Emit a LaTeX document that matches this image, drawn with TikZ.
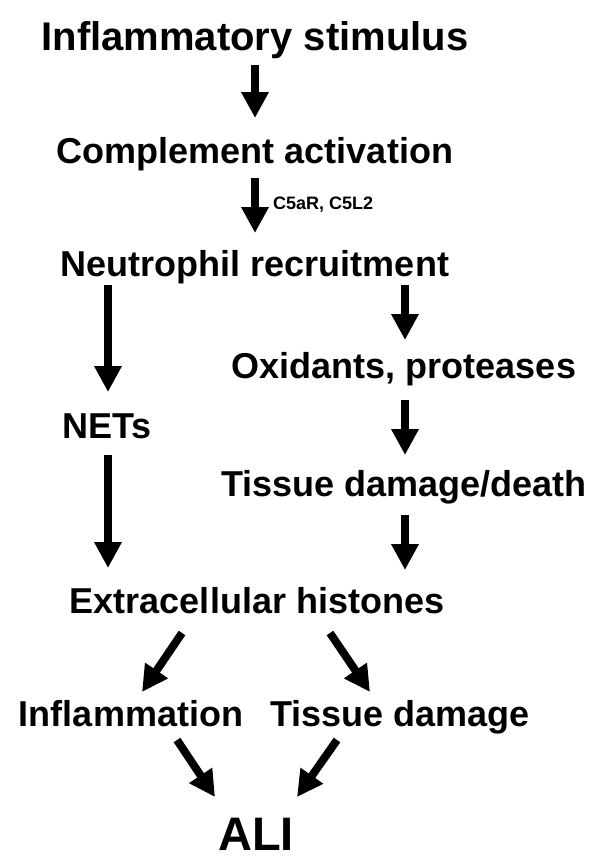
\documentclass[tikz,border=0pt]{standalone}
\usepackage{fontspec}
\setmainfont{Liberation Sans}
\usetikzlibrary{arrows.meta}
\begin{document}
\begin{tikzpicture}[x=1pt,y=-1pt,
  lbl/.style={anchor=base,inner sep=0pt,font=\bfseries\fontsize{36}{40}\selectfont},
  arr/.style={line width=8pt,-{Triangle[width=26pt,length=26pt]}},
  small/.style={anchor=west,inner sep=0pt,font=\bfseries\fontsize{18}{20}\selectfont}]
\useasboundingbox (0,0) rectangle (601,865);
\node[lbl,font=\bfseries\fontsize{40}{44}\selectfont] (stim) at (255,50) {Inflammatory stimulus};
\node[lbl] (comp) at (255,163) {Complement activation};
\node[lbl] (neut) at (255,276) {Neutrophil recruitment};
\node[lbl] (ox) at (404,378) {Oxidants, proteases};
\node[lbl] (nets) at (107,438) {NETs};
\node[lbl] (tiss) at (404,496) {Tissue damage/death};
\node[lbl] (hist) at (257,613) {Extracellular histones};
\node[lbl] (infl) at (131,726) {Inflammation};
\node[lbl] (tdam) at (400,726) {Tissue damage};
\node[lbl,font=\bfseries\fontsize{47}{50}\selectfont] (ali) at (256,850) {ALI};
\node[small] (c5) at (273,205) {C5aR, C5L2};
% arrow end points
\coordinate (a1s) at (255,65);  \coordinate (a1e) at (255,118);
\coordinate (a2s) at (255,178); \coordinate (a2e) at (255,233);
\coordinate (l1s) at (108,285); \coordinate (l1e) at (108,392);
\coordinate (l2s) at (108,455); \coordinate (l2e) at (108,568);
\coordinate (r1s) at (405,285); \coordinate (r1e) at (405,340);
\coordinate (r2s) at (405,400); \coordinate (r2e) at (405,455);
\coordinate (r3s) at (405,515); \coordinate (r3e) at (405,570);
\coordinate (d1s) at (182,633); \coordinate (d1e) at (142,692);
\coordinate (d2s) at (330,633); \coordinate (d2e) at (370,692);
\coordinate (d3s) at (177,740); \coordinate (d3e) at (215,797);
\coordinate (d4s) at (337,740); \coordinate (d4e) at (297,797);
\draw[arr] (a1s) -- (a1e);
\draw[arr] (a2s) -- (a2e);
\draw[arr] (l1s) -- (l1e);
\draw[arr] (l2s) -- (l2e);
\draw[arr] (r1s) -- (r1e);
\draw[arr] (r2s) -- (r2e);
\draw[arr] (r3s) -- (r3e);
\draw[arr] (d1s) -- (d1e);
\draw[arr] (d2s) -- (d2e);
\draw[arr] (d3s) -- (d3e);
\draw[arr] (d4s) -- (d4e);
\end{tikzpicture}
\end{document}
